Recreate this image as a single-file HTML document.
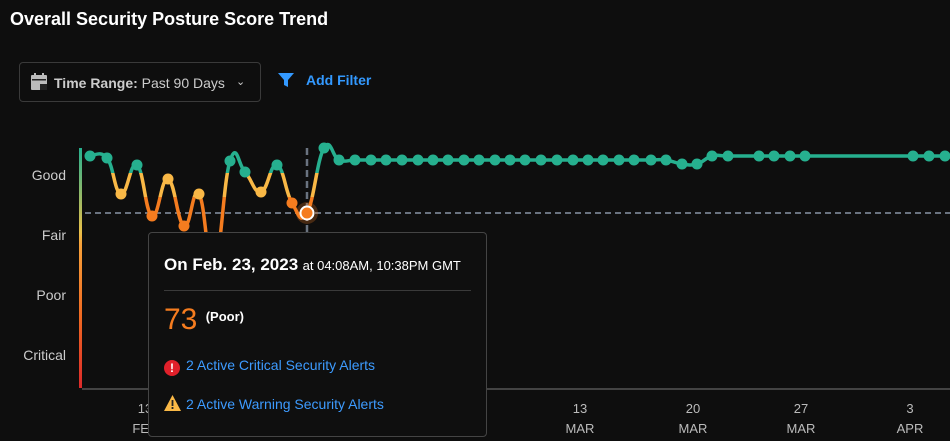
<!DOCTYPE html>
<html><head><meta charset="utf-8"><style>
body{margin:0;width:950px;height:441px;background:#0e0e0e;overflow:hidden;font-family:"Liberation Sans",sans-serif;position:relative;color:#ddd}
.t{position:absolute;left:10px;top:9px;font-size:18px;font-weight:bold;color:#fff}
.tr{position:absolute;left:19px;top:62px;width:242px;height:40px;border:1px solid #3a3a3a;border-radius:4px;box-sizing:border-box}
.tr span{position:absolute;top:12px;font-size:14px;color:#ccc}
.af{position:absolute;left:306px;top:72px;font-size:14px;font-weight:bold;color:#3399ff}
.tip{position:absolute;left:148px;top:232px;width:339px;height:205px;background:#0f0f0f;border:1px solid #444;border-radius:4px;box-sizing:border-box}
</style></head><body>
<div class="t">Overall Security Posture Score Trend</div>
<div class="tr">
<svg style="position:absolute;left:11px;top:10px" width="16" height="17"><rect x="0" y="2" width="16" height="15" rx="1" fill="#bbb"/><rect x="3" y="0" width="2" height="4" fill="#bbb"/><rect x="11" y="0" width="2" height="4" fill="#bbb"/><rect x="1" y="6" width="14" height="1.5" fill="#222"/><rect x="9" y="11" width="7" height="6" fill="#222"/></svg>
<span style="left:34px"><b>Time Range:</b> Past 90 Days</span>
<span style="left:216px;font-size:11px;top:12px">&#8964;</span></div>
<svg style="position:absolute;left:278px;top:72px" width="16" height="16"><path d="M0 1H16L10 8V15L6 13V8Z" fill="#3399ff"/></svg>
<div class="af">Add Filter</div>
<svg id="s" style="position:absolute;left:0;top:0" width="950" height="441">
<defs>
<linearGradient id="bar" x1="0" y1="148" x2="0" y2="388" gradientUnits="userSpaceOnUse"><stop offset="0" stop-color="#26b08f"/><stop offset=".35" stop-color="#e8c04a"/><stop offset=".4" stop-color="#f7a23a"/><stop offset=".7" stop-color="#f06a22"/><stop offset="1" stop-color="#dc2a2a"/></linearGradient>
<linearGradient id="ln" x1="0" y1="140" x2="0" y2="300" gradientUnits="userSpaceOnUse"><stop offset=".206" stop-color="#26b08f"/><stop offset=".206" stop-color="#f9b846"/><stop offset=".356" stop-color="#f9b846"/><stop offset=".356" stop-color="#f57c1f"/></linearGradient>
</defs>
<g font-size="14" fill="#ccc" text-anchor="end"><text x="66" y="180">Good</text><text x="66" y="240">Fair</text><text x="66" y="300">Poor</text><text x="66" y="360">Critical</text></g>
<rect x="79" y="148" width="3" height="240" fill="url(#bar)"/>
<line x1="82" y1="389" x2="950" y2="389" stroke="#555" stroke-width="1.5"/>
<line x1="85" y1="213" x2="950" y2="213" stroke="#6a7380" stroke-width="2" stroke-dasharray="6,4"/>
<line x1="307" y1="148" x2="307" y2="233" stroke="#6a7380" stroke-width="2.5" stroke-dasharray="7,4"/>
<path id="p" fill="none" stroke="url(#ln)" stroke-width="3.5" stroke-linejoin="round" d=""/>
<g id="dots"></g>
<circle cx="307" cy="213" r="11" fill="#f57c1f" opacity=".25"/>
<circle cx="307" cy="213" r="6.5" fill="#f57c1f" stroke="#fff" stroke-width="2"/>
<g font-size="13" fill="#bbb" text-anchor="middle"><text x="145" y="413">13</text><text x="145" y="433">FEB</text><text x="470" y="413">6</text><text x="470" y="433">MAR</text><text x="580" y="413">13</text><text x="580" y="433">MAR</text><text x="693" y="413">20</text><text x="693" y="433">MAR</text><text x="801" y="413">27</text><text x="801" y="433">MAR</text><text x="910" y="413">3</text><text x="910" y="433">APR</text></g>
</svg>
<script>
var pts=[[90,156],[107,158],[121,194],[137,165],[152,216],[168,179],[184,226],[199,194],[214,268],[230,161],[245,172],[261,192],[277,165],[292,203],[307,213],[324,148],[339,160]];
[355,371,386,402,418,433,448,464,479,495,510,525,541,557,573,588,603,619,634,651,666].forEach(function(x){pts.push([x,160])});
pts.push([682,164],[697,164],[712,156],[728,156],[759,156],[774,156],[790,156],[805,156],[913,156],[929,156],[945,156],[960,156]);
var d="M"+pts[0][0]+","+pts[0][1];
for(var i=0;i<pts.length-1;i++){var p0=pts[i-1]||pts[i],p1=pts[i],p2=pts[i+1],p3=pts[i+2]||p2;var t=0.22;
d+=" C"+(p1[0]+(p2[0]-p0[0])*t)+","+(p1[1]+(p2[1]-p0[1])*t)+" "+(p2[0]-(p3[0]-p1[0])*t)+","+(p2[1]-(p3[1]-p1[1])*t)+" "+p2[0]+","+p2[1];}
document.getElementById("p").setAttribute("d",d);
var g=document.getElementById("dots"),h="";
pts.forEach(function(p){if(p[0]==307||p[0]==214||p[0]>950)return;var c=p[1]<175?"#26b08f":(p[1]<197?"#f9b846":"#f57c1f");h+='<circle cx="'+p[0]+'" cy="'+p[1]+'" r="5.5" fill="'+c+'"/>';});
g.innerHTML=h;
</script>
<div class="tip">
<div style="position:absolute;left:15px;top:22px;white-space:nowrap;color:#fff"><b style="font-size:17px">On Feb. 23, 2023</b> <span style="font-size:13px">at 04:08AM, 10:38PM GMT</span></div>
<div style="position:absolute;left:15px;right:15px;top:57px;border-top:1px solid #3a3a3a"></div>
<div style="position:absolute;left:15px;top:70px;font-size:30px;color:#f57c1f">73 <span style="font-size:13px;color:#fff;font-weight:bold;vertical-align:8px">(Poor)</span></div>
<div style="position:absolute;left:15px;top:124px;font-size:14px;color:#3d9bff;white-space:nowrap"><span style="display:inline-block;width:16px;height:16px;border-radius:50%;background:#e0202a;color:#fff;font-weight:bold;font-size:12px;text-align:center;line-height:16px;margin-right:6px;vertical-align:-2px">!</span>2 Active Critical Security Alerts</div>
<div style="position:absolute;left:15px;top:162px;font-size:14px;color:#3d9bff;white-space:nowrap"><svg width="17" height="16" style="vertical-align:-2px;margin-right:5px"><path d="M8.5 0L17 16H0Z" fill="#f9b846"/><rect x="7.6" y="5" width="1.8" height="6" fill="#222"/><rect x="7.6" y="12" width="1.8" height="2" fill="#222"/></svg>2 Active Warning Security Alerts</div>
</div>
</body></html>
